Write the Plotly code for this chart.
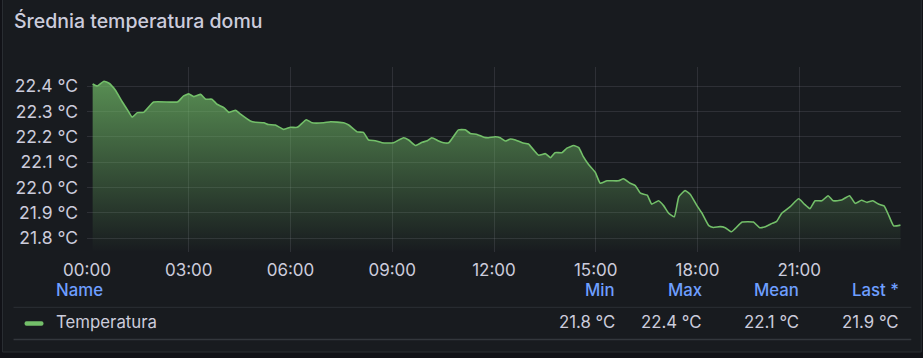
import plotly.graph_objects as go

# ---------------- data ----------------
times = ["00:10", "00:18", "00:30", "00:39", "00:50", "01:02", "01:11", "01:20", "01:29", "01:40",
         "01:58", "02:40", "02:51", "03:00", "03:09", "03:21", "03:30", "03:41", "03:50", "04:02",
         "04:11", "04:23", "04:31", "04:49", "04:58", "05:13", "05:21", "05:33", "05:48", "06:00",
         "06:12", "06:28", "06:38", "06:59", "07:11", "07:34", "07:43", "07:58", "08:09", "08:18",
         "08:30", "08:42", "09:02", "09:20", "09:29", "09:41", "09:53", "10:02", "10:10", "10:22",
         "10:31", "10:40", "10:49", "10:57", "11:09", "11:18", "11:30", "11:42", "11:50", "12:02",
         "12:11", "12:20", "12:29", "12:38", "12:50", "13:01", "13:10", "13:19", "13:31", "13:40",
         "13:48", "14:00", "14:09", "14:21", "14:30", "14:38", "14:47", "14:59", "15:08", "15:20",
         "15:40", "15:49", "16:01", "16:10", "16:19", "16:31", "16:39", "16:51", "17:00", "17:09",
         "17:19", "17:27", "17:38", "17:47", "17:59", "18:08", "18:20", "18:28", "18:40", "18:49",
         "19:00", "19:07", "19:19", "19:39", "19:50", "20:00", "20:12", "20:20", "20:29", "20:44",
         "20:59", "21:09", "21:19", "21:28", "21:40", "21:51", "22:00", "22:15", "22:29", "22:39",
         "22:50", "23:00", "23:10", "23:20", "23:30", "23:38", "23:47", "23:59"]
temps = [22.409, 22.401, 22.420, 22.412, 22.385, 22.340, 22.309, 22.278, 22.296, 22.297,
         22.338, 22.338, 22.362, 22.370, 22.359, 22.368, 22.349, 22.349, 22.329, 22.316,
         22.297, 22.305, 22.291, 22.263, 22.258, 22.256, 22.249, 22.247, 22.230, 22.238,
         22.238, 22.268, 22.256, 22.256, 22.260, 22.256, 22.247, 22.220, 22.218, 22.188,
         22.185, 22.177, 22.177, 22.197, 22.188, 22.166, 22.179, 22.185, 22.197, 22.184,
         22.177, 22.177, 22.204, 22.228, 22.228, 22.214, 22.210, 22.199, 22.197, 22.201,
         22.197, 22.184, 22.192, 22.188, 22.177, 22.172, 22.149, 22.128, 22.134, 22.118,
         22.138, 22.138, 22.156, 22.166, 22.158, 22.122, 22.092, 22.061, 22.017, 22.027,
         22.027, 22.035, 22.017, 22.008, 21.978, 21.970, 21.935, 21.948, 21.929, 21.899,
         21.885, 21.964, 21.988, 21.974, 21.929, 21.899, 21.850, 21.843, 21.846, 21.842,
         21.826, 21.839, 21.864, 21.864, 21.842, 21.846, 21.859, 21.867, 21.899, 21.925,
         21.956, 21.935, 21.917, 21.948, 21.948, 21.968, 21.948, 21.951, 21.968, 21.938,
         21.950, 21.942, 21.948, 21.935, 21.928, 21.892, 21.849, 21.852]
series_name = "Temperatura"
title_text = "Średnia temperatura domu"
legend_headers = ["Min", "Max", "Mean", "Last *"]
day = "2024-01-01"

x_vals = [f"{day} {t}" for t in times]

# ---------------- styles ----------------
FONT = "Inter, Roboto, sans-serif"
TXT = "#ccccdc"
BLUE = "#6e9fff"
GREEN = "#73BF69"
GRID = "rgba(204,204,220,0.12)"
PANEL = "#181b1f"
OUTER = "#111217"

W, H = 923, 358
L, R, T, B = 86.5, 22.3, 67, 106
PW = W - L - R
PH = H - T - B


def px(x):
    return (x - L) / PW


def py(y):
    return (H - B - y) / PH


y_min, y_max = 21.746, 22.476

fig = go.Figure()
fig.add_trace(go.Scatter(
    x=x_vals, y=temps, mode="lines", name=series_name,
    line=dict(color=GREEN, width=1.6, shape="spline", smoothing=0.4),
    fill="tozeroy",
    fillgradient=dict(type="vertical",
                      colorscale=[[0, "rgba(115,191,105,0)"], [1, "rgba(115,191,105,0.70)"]],
                      start=y_min, stop=max(temps)),
    hoverinfo="skip",
))

# ---------------- stats for legend ----------------
stats = [min(temps), max(temps), sum(temps) / len(temps), temps[-1]]
stat_txt = [f"{v:.1f} °C" for v in stats]

col_right = [617, 704, 801, 901]
LEG_SIZE = 16.8

annotations = [
    dict(text=title_text, x=px(11), y=py(21), xref="paper", yref="paper",
         xanchor="left", yanchor="middle", showarrow=False,
         font=dict(family=FONT, size=19.5, color=TXT, weight=500)),
    dict(text="Name", x=px(53), y=py(290), xref="paper", yref="paper",
         xanchor="left", yanchor="middle", showarrow=False,
         font=dict(family=FONT, size=LEG_SIZE, color=BLUE, weight=500)),
    dict(text=series_name, x=px(53), y=py(322), xref="paper", yref="paper",
         xanchor="left", yanchor="middle", showarrow=False,
         font=dict(family=FONT, size=LEG_SIZE, color=TXT)),
]
for hdr, val, xr in zip(legend_headers, stat_txt, col_right):
    annotations.append(dict(text=hdr, x=px(xr), y=py(290), xref="paper", yref="paper",
                            xanchor="right", yanchor="middle", showarrow=False,
                            font=dict(family=FONT, size=LEG_SIZE, color=BLUE, weight=500)))
    annotations.append(dict(text=val, x=px(xr), y=py(322), xref="paper", yref="paper",
                            xanchor="right", yanchor="middle", showarrow=False,
                            font=dict(family=FONT, size=LEG_SIZE, color=TXT)))

shapes = [
    # panel
    dict(type="rect", xref="paper", yref="paper", layer="below",
         x0=px(2), x1=px(921), y0=py(-6), y1=py(352),
         fillcolor=PANEL, line=dict(color="#2a2e33", width=1)),
    # legend row separators
    dict(type="line", xref="paper", yref="paper", x0=px(13), x1=px(911), y0=py(307.3), y1=py(307.3),
         line=dict(color="#2c3035", width=1)),
    dict(type="line", xref="paper", yref="paper", x0=px(13), x1=px(911), y0=py(339.5), y1=py(339.5),
         line=dict(color="#33373c", width=1.5)),
]
# legend colour marker (rounded bar)
mx0, mx1, my0, my1, rr = px(24), px(43), py(325.7), py(321.3), 2.0
rx = rr / PW
ry = rr / PH
path = (f"M {mx0+rx},{my0} L {mx1-rx},{my0} Q {mx1},{my0} {mx1},{my0+ry} "
        f"L {mx1},{my1-ry} Q {mx1},{my1} {mx1-rx},{my1} L {mx0+rx},{my1} "
        f"Q {mx0},{my1} {mx0},{my1-ry} L {mx0},{my0+ry} Q {mx0},{my0} {mx0+rx},{my0} Z")
shapes.append(dict(type="path", xref="paper", yref="paper", path=path,
                   fillcolor=GREEN, line=dict(width=0)))

fig.update_layout(
    width=W, height=H,
    margin=dict(l=L, r=R, t=T, b=B, pad=0, autoexpand=False),
    paper_bgcolor=OUTER,
    plot_bgcolor="rgba(0,0,0,0)",
    showlegend=False,
    font=dict(family=FONT, size=16, color=TXT),
    annotations=annotations,
    shapes=shapes,
    xaxis=dict(
        type="date",
        range=[f"{day} 00:00", "2024-01-02 00:00"],
        tickformat="%H:%M",
        dtick=3 * 3600 * 1000,
        tick0=f"{day} 00:00",
        showgrid=True, gridcolor=GRID, gridwidth=1,
        zeroline=False, showline=False, ticks="",
        tickfont=dict(family=FONT, size=17, color=TXT),
        ticklabelstandoff=6,
        fixedrange=True,
    ),
    yaxis=dict(
        range=[y_min, y_max],
        tickvals=[21.8, 21.9, 22.0, 22.1, 22.2, 22.3, 22.4],
        ticktext=[f"{v:.1f} °C" for v in [21.8, 21.9, 22.0, 22.1, 22.2, 22.3, 22.4]],
        showgrid=True, gridcolor=GRID, gridwidth=1,
        zeroline=False, showline=False, ticks="",
        tickfont=dict(family=FONT, size=17.5, color=TXT),
        ticklabelstandoff=8,
        fixedrange=True,
    ),
)

fig.write_html("out.html")
